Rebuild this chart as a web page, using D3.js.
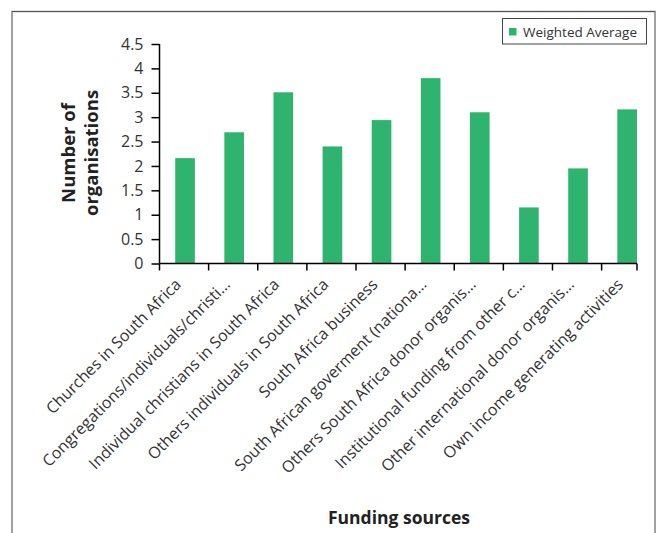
<!DOCTYPE html>
<html>
<head>
<meta charset="utf-8">
<script src="https://cdn.jsdelivr.net/npm/d3@7"></script>
<style>
  html, body { margin: 0; padding: 0; background: #fff; }
  svg { display: block; }
  text { font-family: "Open Sans", Lato, sans-serif; }
</style>
</head>
<body>
<svg id="chart" width="660" height="533"></svg>
<script>
const categories = [
  "Churches in South Africa",
  "Congregations/individuals/christi…",
  "Individual christians in South Africa",
  "Others individuals in South Africa",
  "South Africa business",
  "South African goverment (nationa…",
  "Others South Africa donor organis…",
  "Institutional funding from other c…",
  "Other international donor organis…",
  "Own income generating activities"
];
const values = [2.16, 2.69, 3.51, 2.40, 2.94, 3.80, 3.10, 1.15, 1.95, 3.16];
const seriesName = "Weighted Average";
const yTicks = [0, 0.5, 1, 1.5, 2, 2.5, 3, 3.5, 4, 4.5];
const yTitle = ["Number of", "organisations"];
const xTitle = "Funding sources";

const svg = d3.select("#chart");
const green = "#2fb46f";
const textCol = "#333";

// frame
svg.append("path")
  .attr("d", "M12,540 L12,11.5 L655,11.5 L655,540")
  .attr("fill", "none").attr("stroke", "#8a8a8a").attr("stroke-width", 1.6);
svg.append("line").attr("x1", 12).attr("x2", 655).attr("y1", 11.5).attr("y2", 11.5)
  .attr("stroke", "#555").attr("stroke-width", 1.2);

const x0 = 159.5;
const x = d3.scaleBand().domain(categories).range([x0, 652.7])
  .paddingInner(0.6).paddingOuter(0.32);
const y = d3.scaleLinear().domain([0, 4.5]).range([263.5, 44]);

const axisEnd = x(categories[categories.length - 1]) + x.bandwidth();

// bars
svg.append("g").selectAll("rect").data(values).join("rect")
  .attr("x", (d, i) => x(categories[i]))
  .attr("y", d => y(d))
  .attr("width", x.bandwidth())
  .attr("height", d => y(0) - y(d))
  .attr("fill", green);

// y axis
const yAxis = svg.append("g").attr("transform", `translate(${x0},0)`)
  .call(d3.axisLeft(y).tickValues(yTicks).tickSize(8).tickPadding(8).tickFormat(d3.format("")));
yAxis.select(".domain").attr("stroke", "#000").attr("stroke-width", 1.5).attr("d", `M0,${y(4.5)}V${y(0)}`);
yAxis.selectAll(".tick line").attr("stroke", "#000").attr("stroke-width", 1.5);
yAxis.selectAll(".tick text").attr("fill", textCol).style("font-size", "16px");

// x axis line and ticks at band boundaries
const step = x.step();
const boundaries = d3.range(categories.length + 1).map(i =>
  Math.min(x(categories[0]) - (x.paddingOuter() * step) + i * step, axisEnd));
const xg = svg.append("g");
xg.append("line").attr("x1", x0).attr("x2", axisEnd)
  .attr("y1", y(0)).attr("y2", y(0)).attr("stroke", "#000").attr("stroke-width", 1.5);
xg.selectAll("line.tk").data(boundaries).join("line").attr("class", "tk")
  .attr("x1", d => d).attr("x2", d => d)
  .attr("y1", y(0)).attr("y2", y(0) + 7)
  .attr("stroke", "#000").attr("stroke-width", 1.5);

// x labels
xg.selectAll("text.lbl").data(categories).join("text").attr("class", "lbl")
  .attr("transform", d => `translate(${x(d) + x.bandwidth() / 2 - 3},${y(0) + 22}) rotate(-45)`)
  .attr("text-anchor", "end")
  .attr("fill", textCol)
  .style("font-size", "16px")
  .text(d => d);

// y title
yTitle.forEach((t, i) => {
  svg.append("text")
    .attr("transform", `translate(${75 + i * 23},153) rotate(-90)`)
    .attr("text-anchor", "middle")
    .attr("fill", "#222")
    .style("font-size", "18.5px").style("font-weight", "bold")
    .text(t);
});

// x title
svg.append("text").attr("x", 399).attr("y", 524)
  .attr("text-anchor", "middle").attr("fill", "#222")
  .style("font-size", "17.5px").style("font-weight", "bold")
  .text(xTitle);

// legend
const lg = svg.append("g");
lg.append("rect").attr("x", 502.5).attr("y", 18.5).attr("width", 144).attr("height", 25.5)
  .attr("fill", "#fff").attr("stroke", "#444").attr("stroke-width", 1);
lg.append("rect").attr("x", 509).attr("y", 28).attr("width", 7.5).attr("height", 7.5).attr("fill", green);
lg.append("text").attr("x", 523).attr("y", 36.5).attr("fill", textCol)
  .style("font-size", "13.5px").text(seriesName);
</script>
</body>
</html>
